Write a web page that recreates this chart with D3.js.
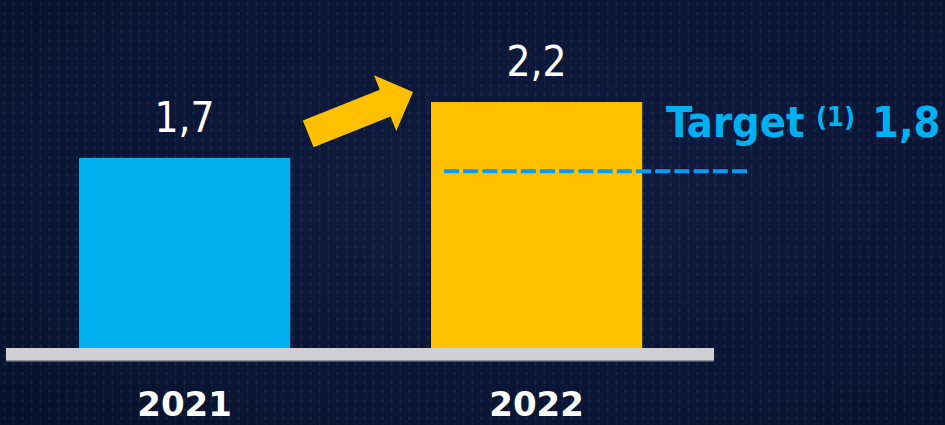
<!DOCTYPE html>
<html>
<head>
<meta charset="utf-8">
<script src="https://cdn.jsdelivr.net/npm/d3@7"></script>
<style>
  html, body { margin: 0; padding: 0; background: #0a1536; }
  svg { display: block; }
</style>
</head>
<body>
<svg width="945" height="425"></svg>
<script>
// data
let years = ["2021", "2022"];
let values = [1.7, 2.2];
let valueLabels = ["1,7", "2,2"];
let barColors = ["#00b0f0", "#ffc000"];
let targetValue = 1.8;
let targetLabel = "1,8";
let targetLineLevel = 1.58; // where the dashed line sits in the picture

let width = 945;
let height = 425;
let svg = d3.select("svg");

// background with faint dot texture
let defs = svg.append("defs");
let grad = defs.append("radialGradient").attr("id", "bg").attr("cx", "55%").attr("cy", "45%").attr("r", "75%");
grad.append("stop").attr("offset", "0%").attr("stop-color", "#0f1c42");
grad.append("stop").attr("offset", "100%").attr("stop-color", "#08122d");
let pat = defs.append("pattern").attr("id", "dots").attr("width", 9).attr("height", 9).attr("patternUnits", "userSpaceOnUse");
pat.append("rect").attr("x", 4).attr("y", 0).attr("width", 1).attr("height", 9).attr("fill", "#ffffff").attr("opacity", 0.025);
pat.append("circle").attr("cx", 4.5).attr("cy", 4.5).attr("r", 1.2).attr("fill", "#8fa6d8").attr("opacity", 0.09);

svg.append("rect").attr("width", width).attr("height", height).attr("fill", "url(#bg)");
svg.append("rect").attr("width", width).attr("height", height).attr("fill", "url(#dots)");

let xScale = d3.scaleBand().domain(years).range([79, 642.2]).paddingInner(0.4).paddingOuter(0);
let yScale = d3.scaleLinear().domain([0, 2.2]).range([348, 102]);

// bars
svg.selectAll("rect.bar")
  .data(values)
  .enter()
  .append("rect")
  .attr("class", "bar")
  .attr("x", function (d, i) { return xScale(years[i]); })
  .attr("y", function (d) { return yScale(d); })
  .attr("width", xScale.bandwidth())
  .attr("height", function (d) { return yScale(0) - yScale(d); })
  .style("fill", function (d, i) { return barColors[i]; });

// grey base
svg.append("rect")
  .attr("x", 6)
  .attr("y", yScale(0))
  .attr("width", 708)
  .attr("height", 13)
  .style("fill", "#d0cfd1");
svg.append("rect")
  .attr("x", 6)
  .attr("y", yScale(0) + 12)
  .attr("width", 708)
  .attr("height", 1.5)
  .style("fill", "#8f929c");

// value labels
svg.selectAll("text.value")
  .data(values)
  .enter()
  .append("text")
  .attr("class", "value")
  .attr("x", function (d, i) { return xScale(years[i]) + xScale.bandwidth() / 2; })
  .attr("y", function (d) { return yScale(d) - 26; })
  .attr("text-anchor", "middle")
  .style("font-family", "'DejaVu Sans Condensed', 'DejaVu Sans'")
  .style("font-stretch", "condensed")
  .style("font-size", "42px")
  .style("fill", "#ffffff")
  .text(function (d, i) { return valueLabels[i]; });

// year labels
svg.selectAll("text.year")
  .data(years)
  .enter()
  .append("text")
  .attr("class", "year")
  .attr("x", function (d) { return xScale(d) + xScale.bandwidth() / 2; })
  .attr("y", 416)
  .attr("text-anchor", "middle")
  .style("font-family", "'DejaVu Sans'")
  .style("font-weight", "bold")
  .style("font-size", "34px")
  .style("fill", "#ffffff")
  .text(function (d) { return d; });

// target dashed line
let tY = yScale(targetLineLevel);
svg.append("line")
  .attr("x1", xScale("2022") + 13)
  .attr("x2", xScale("2022") + 316)
  .attr("y1", tY)
  .attr("y2", tY)
  .style("stroke", "#0a9cf5")
  .style("stroke-width", 4)
  .style("stroke-dasharray", "15 4.2");

// target label
let tFont = "'DejaVu Sans Condensed', 'DejaVu Sans'";
let tLabel = svg.append("g").style("fill", "#00b0f0").style("font-family", tFont)
  .style("font-stretch", "condensed").style("font-weight", "bold");
tLabel.append("text").attr("x", 666).attr("y", 137).style("font-size", "43px").text("Target");
tLabel.append("text").attr("x", 816).attr("y", 126).style("font-size", "27px").text("(1)");
tLabel.append("text").attr("x", 872).attr("y", 137).style("font-size", "43px").text(targetLabel);

// arrow from 2021 to 2022
let tail = [xScale("2021") + xScale.bandwidth() + 18, yScale(values[0]) - 24];
let tip = [xScale("2022") - 18, yScale(values[1]) - 10];
let dx = tip[0] - tail[0], dy = tip[1] - tail[1];
let len = Math.sqrt(dx * dx + dy * dy);
let ang = Math.atan2(dy, dx) * 180 / Math.PI;
let shaftW = 29, headW = 60, headL = 30;
let pts = [
  [0, -shaftW / 2], [len - headL, -shaftW / 2], [len - headL, -headW / 2], [len, 0],
  [len - headL, headW / 2], [len - headL, shaftW / 2], [0, shaftW / 2]
];
svg.append("path")
  .attr("d", d3.line()(pts) + "Z")
  .attr("transform", "translate(" + tail[0] + "," + tail[1] + ") rotate(" + ang + ")")
  .style("fill", "#ffc000");
</script>
</body>
</html>
